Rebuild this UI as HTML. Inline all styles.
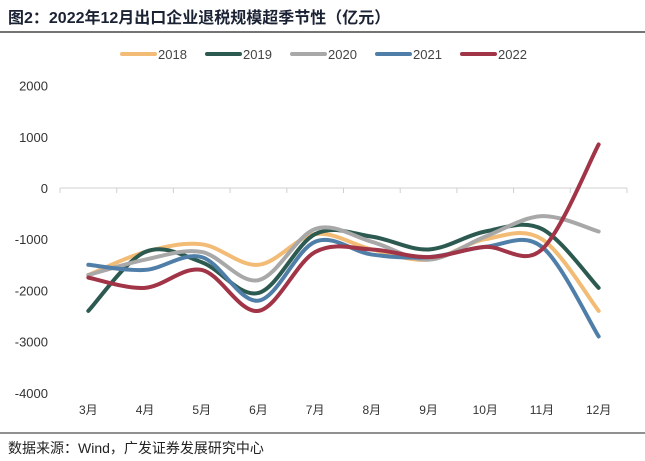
<!DOCTYPE html>
<html><head><meta charset="utf-8"><style>
body{margin:0;width:645px;height:461px;background:#fff;overflow:hidden;font-family:"Liberation Sans","Noto Sans CJK SC",sans-serif}
#title{position:absolute;left:8px;top:4px;font-size:16px;font-weight:bold;color:#1a2233}
#src{position:absolute;left:8px;top:438px;font-size:14px;color:#222}
</style></head><body>
<div id="title">图2：2022年12月出口企业退税规模超季节性（亿元）</div>
<svg id="c" width="645" height="461" style="position:absolute;left:0;top:0"></svg>
<div id="src">数据来源：Wind，广发证券发展研究中心</div>
<script>
const categories=["3月","4月","5月","6月","7月","8月","9月","10月","11月","12月"];
const yTicks=[2000,1000,0,-1000,-2000,-3000,-4000];
const seriesNames=["2018","2019","2020","2021","2022"];
const colors=["#f2bc76","#2d5a50","#a8a8a8","#4f7ea8","#a13447"];
const s2018=[-1700,-1250,-1100,-1500,-900,-1200,-1400,-1000,-1000,-2400];
const s2019=[-2400,-1250,-1450,-2050,-900,-950,-1200,-850,-800,-1950];
const s2020=[-1700,-1400,-1250,-1800,-800,-1050,-1400,-950,-550,-850];
const s2021=[-1500,-1600,-1350,-2200,-1050,-1300,-1350,-1150,-1150,-2900];
const s2022=[-1750,-1950,-1600,-2400,-1250,-1200,-1350,-1150,-1200,850];
const data=[s2018,s2019,s2020,s2021,s2022];
const svg=document.getElementById('c'),NS="http://www.w3.org/2000/svg";
const x0=60,x1=627,step=(x1-x0)/categories.length;
const X=i=>x0+step*(i+0.5), Y=v=>188-v*0.0512;
function mk(t,a){const e=document.createElementNS(NS,t);for(const k in a)e.setAttribute(k,a[k]);svg.appendChild(e);return e;}
const hl=mk('line',{x1:0,y1:32,x2:645,y2:32,stroke:'#222','stroke-width':1.2});


const bl=mk('line',{x1:0,y1:433,x2:645,y2:433,stroke:'#222','stroke-width':1});


yTicks.forEach(v=>{const t=mk('text',{x:48,y:Y(v)+5,'text-anchor':'end','font-size':13,fill:'#333'});t.textContent=v;

});
const ax=mk('line',{x1:x0,y1:Y(0),x2:x1,y2:Y(0),stroke:'#d0d0d0','stroke-width':1});


for(let i=0;i<=categories.length;i++){const tk=mk('line',{x1:x0+step*i,y1:Y(0),x2:x0+step*i,y2:Y(0)+5,stroke:'#d0d0d0'});

}
categories.forEach((c,i)=>{const t=mk('text',{x:X(i),y:414,'text-anchor':'middle','font-size':12,fill:'#333'});t.textContent=c;

});
function path(vals){const p=vals.map((v,i)=>[X(i),Y(v)]);let d=`M${p[0][0]},${p[0][1]}`;
for(let i=0;i<p.length-1;i++){const a=p[Math.max(i-1,0)],b=p[i],c=p[i+1],e=p[Math.min(i+2,p.length-1)];
d+=` C${b[0]+(c[0]-a[0])/6},${b[1]+(c[1]-a[1])/6} ${c[0]-(e[0]-b[0])/6},${c[1]-(e[1]-b[1])/6} ${c[0]},${c[1]}`;}return d;}
data.forEach((s,k)=>{const l=mk('path',{d:path(s),fill:'none',stroke:colors[k],'stroke-width':4,'stroke-linecap':'round'});


const lx=[122,207,292,377,462][k];
const g=mk('line',{x1:lx,y1:54,x2:lx+33,y2:54,stroke:colors[k],'stroke-width':4,'stroke-linecap':'round'});


const t=mk('text',{x:lx+36,y:59,'font-size':13,fill:'#444'});t.textContent=seriesNames[k];

});
</script>
</body></html>
